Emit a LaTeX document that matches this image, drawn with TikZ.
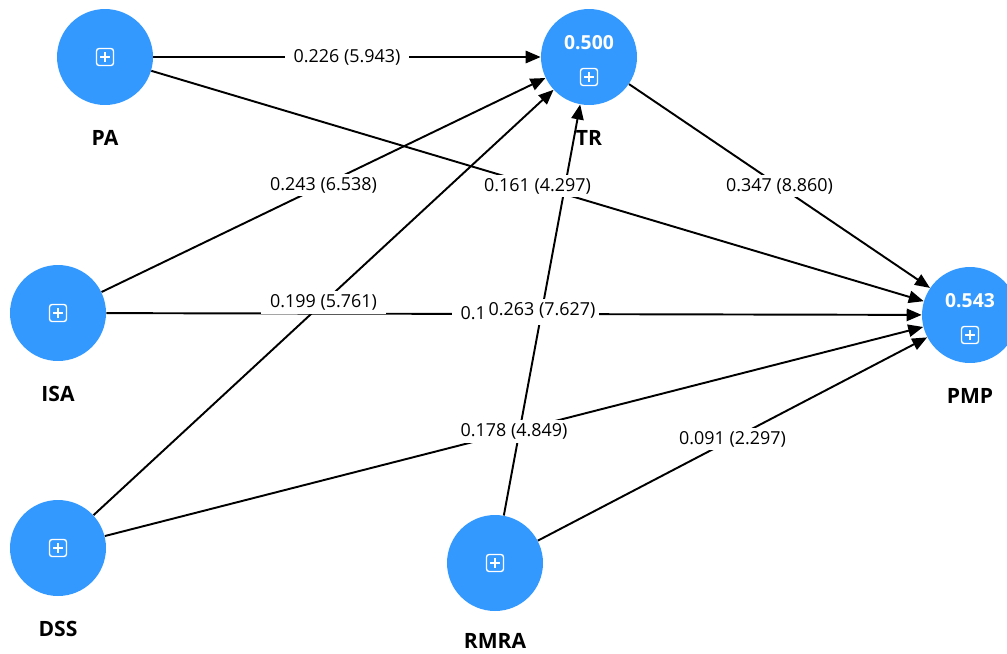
\documentclass[tikz,border=0pt]{standalone}
\usepackage{fontspec}
\setmainfont{Open Sans}
\usetikzlibrary{arrows.meta,positioning,calc}
\definecolor{lvblue}{RGB}{51,153,255}

\tikzset{
  latent/.style={circle, fill=lvblue, minimum size=1.92cm, inner sep=0pt},
  lvname/.style={font=\fontsize{12}{14}\selectfont\bfseries},
  rsq/.style={text=white, inner sep=0pt, font=\fontsize{11}{13}\selectfont\bfseries},
  effect/.style={line width=1.1pt, -{Triangle[length=8.5pt,width=7pt]}},
  coef/.style={fill=white, inner xsep=5pt, inner ysep=2pt, font=\fontsize{10.2}{12}\selectfont},
}

% small expand icon inside a construct
\newcommand{\expicon}[1]{%
  \draw[white, line width=0.8pt, rounded corners=1.5pt] ($(#1)+(-8.5,-8.5)$) rectangle ($(#1)+(8.5,8.5)$);
  \draw[white, line width=0.8pt] ($(#1)+(-5,0)$) -- ($(#1)+(5,0)$) ($(#1)+(0,-5)$) -- ($(#1)+(0,5)$);
}

\begin{document}
\begin{tikzpicture}[x=0.02cm, y=-0.02cm]
  \clip (0,0) rectangle (1007,653);

  % Constructs
  \node[latent] (PA) at (105,57) {};
  \node[latent] (TR) at (589,57) {};
  \node[latent] (ISA) at (58,313) {};
  \node[latent] (DSS) at (58,548) {};
  \node[latent] (RMRA) at (495,563) {};
  \node[latent] (PMP) at (970,315) {};

  \node[lvname, below=0.37cm of PA] (PAtxt) {PA};
  \node[lvname, below=0.37cm of TR] (TRtxt) {TR};
  \node[lvname, below=0.37cm of ISA] (ISAtxt) {ISA};
  \node[lvname, below=0.37cm of DSS] (DSStxt) {DSS};
  \node[lvname, below=0.31cm of RMRA] (RMRAtxt) {RMRA};
  \node[lvname, below=0.37cm of PMP] (PMPtxt) {PMP};

  % R squared
  \node[rsq] (TRval) at ($(TR)+(0,-14)$) {0.500};
  \node[rsq] (PMPval) at ($(PMP)+(0,-14)$) {0.543};

  \coordinate (TRic) at ($(TR)+(0,20)$);
  \coordinate (PMPic) at ($(PMP)+(0,20)$);
  \expicon{PA}
  \expicon{ISA}
  \expicon{DSS}
  \expicon{RMRA}
  \expicon{TRic}
  \expicon{PMPic}

  % Paths
  \foreach \a/\b in {ISA/PMP, PA/TR, PA/PMP, ISA/TR, DSS/TR, DSS/PMP, RMRA/PMP, TR/PMP, RMRA/TR}
    \draw[effect] (\a) -- (\b);

  % Path coefficients
  \path (ISA) -- (PMP) node[coef, midway] (cISAPMP) {0.1\phantom{61 (4.297)}};
  \path (PA) -- (TR) node[coef, midway] (cPATR) {0.226 (5.943)};
  \path (RMRA) -- (TR) node[coef, midway, inner xsep=2pt] (cRMRATR) {0.263 (7.627)};
  \path (PA) -- (PMP) node[coef, midway] (cPAPMP) {0.161 (4.297)};
  \path (ISA) -- (TR) node[coef, midway] (cISATR) {0.243 (6.538)};
  \path (DSS) -- (TR) node[coef, midway] (cDSSTR) {0.199 (5.761)};
  \path (DSS) -- (PMP) node[coef, midway] (cDSSPMP) {0.178 (4.849)};
  \path (RMRA) -- (PMP) node[coef, midway] (cRMRAPMP) {0.091 (2.297)};
  \path (TR) -- (PMP) node[coef, midway] (cTRPMP) {0.347 (8.860)};
\end{tikzpicture}
\end{document}
